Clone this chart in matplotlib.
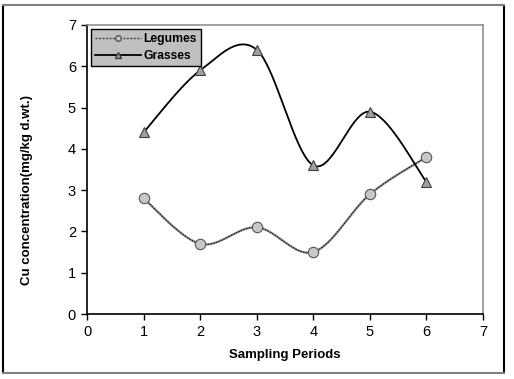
import numpy as np
import matplotlib
matplotlib.use('Agg')
import matplotlib.pyplot as plt
from matplotlib.lines import Line2D

periods = [1, 2, 3, 4, 5, 6]
legumes = [2.8, 1.7, 2.1, 1.5, 2.9, 3.8]
grasses = [4.4, 5.9, 6.4, 3.6, 4.9, 3.2]

plt.rcParams['font.family'] = ['Liberation Sans', 'DejaVu Sans']


def smooth(x, y, n=40):
    # excel style smoothed line (catmull-rom as bezier segments)
    x = np.asarray(x, float)
    y = np.asarray(y, float)
    px = np.concatenate([[x[0]], x, [x[-1]]])
    py = np.concatenate([[y[0]], y, [y[-1]]])
    xs, ys = [], []
    t = np.linspace(0, 1, n)
    for i in range(1, len(px) - 2):
        p0 = np.array([px[i], py[i]])
        p3 = np.array([px[i + 1], py[i + 1]])
        c1 = p0 + (np.array([px[i + 1], py[i + 1]]) - np.array([px[i - 1], py[i - 1]])) / 6
        c2 = p3 - (np.array([px[i + 2], py[i + 2]]) - np.array([px[i], py[i]])) / 6
        b = ((1 - t) ** 3)[:, None] * p0 + (3 * (1 - t) ** 2 * t)[:, None] * c1 \
            + (3 * (1 - t) * t ** 2)[:, None] * c2 + (t ** 3)[:, None] * p3
        xs.extend(b[:, 0])
        ys.extend(b[:, 1])
    return np.array(xs), np.array(ys)


W, H = 514, 379
fig = plt.figure(figsize=(W / 100, H / 100), dpi=100)

# outer chart frame
fig.add_artist(Line2D([3 / W, 3 / W], [1 - 4.5 / H, 1 - 373 / H], color='black', lw=1.5))
fig.add_artist(Line2D([504 / W, 504 / W], [1 - 4.5 / H, 1 - 373 / H], color='black', lw=1.5))
fig.add_artist(Line2D([3 / W, 504 / W], [1 - 4.5 / H, 1 - 4.5 / H], color='#808080', lw=1.5))
fig.add_artist(Line2D([3 / W, 504 / W], [1 - 373 / H, 1 - 373 / H], color='#808080', lw=1.5))

ax = fig.add_axes([87 / W, 65 / H, 396 / W, 289 / H])

lx, ly = smooth(periods, legumes)
gx, gy = smooth(periods, grasses)

ax.plot(lx, ly, color='#8a8a8a', lw=1.6, zorder=2)
ax.plot(lx, ly, color='#222222', lw=0.8, ls=(0, (1.5, 1)), zorder=2)
ax.plot(periods, legumes, ls='none', marker='o', ms=7.5, mfc='#c8c8c8', mec='#555555', mew=0.8, zorder=3)

ax.plot(gx, gy, color='black', lw=1.3, zorder=2)
ax.plot(periods, grasses, ls='none', marker='^', ms=7.5, mfc='#a0a0a0', mec='#404040', mew=0.8, zorder=3)

ax.set_xlim(0, 7)
ax.set_ylim(0, 7)
ax.set_xticks(range(0, 8))
ax.set_yticks(range(0, 8))
ax.tick_params(direction='out', length=4, width=1, labelsize=10.5, colors='black', pad=4)
for s in ['left', 'bottom']:
    ax.spines[s].set_color('black')
    ax.spines[s].set_linewidth(1.2)
for s in ['top', 'right']:
    ax.spines[s].set_color('#909090')
    ax.spines[s].set_linewidth(1.2)

ax.set_xlabel('Sampling Periods', fontsize=9.5, fontweight='bold', labelpad=7)
fig.text(27 / W, 1 - 190 / H, 'Cu concentration(mg/kg d.wt.)', fontsize=9.5, fontweight='bold',
         rotation=90, ha='center', va='center')

h1 = Line2D([], [], color='#444444', lw=1, ls=(0, (1.5, 1)), marker='o', ms=4, mfc='#c8c8c8', mec='#555555')
h2 = Line2D([], [], color='black', lw=1.3, marker='^', ms=4, mfc='#a0a0a0', mec='#404040')
leg = ax.legend([h1, h2], ['Legumes', 'Grasses'], loc='upper left', bbox_to_anchor=(4 / 396, 1 - 4 / 289),
                prop={'weight': 'bold', 'size': 8.7}, fancybox=False, framealpha=1,
                borderpad=0.35, labelspacing=0.4, handlelength=3.8, handletextpad=0.2, borderaxespad=0)
leg.get_frame().set_facecolor('#c0c0c0')
leg.get_frame().set_edgecolor('black')
leg.get_frame().set_linewidth(1)

plt.savefig('out.png', dpi=100)
